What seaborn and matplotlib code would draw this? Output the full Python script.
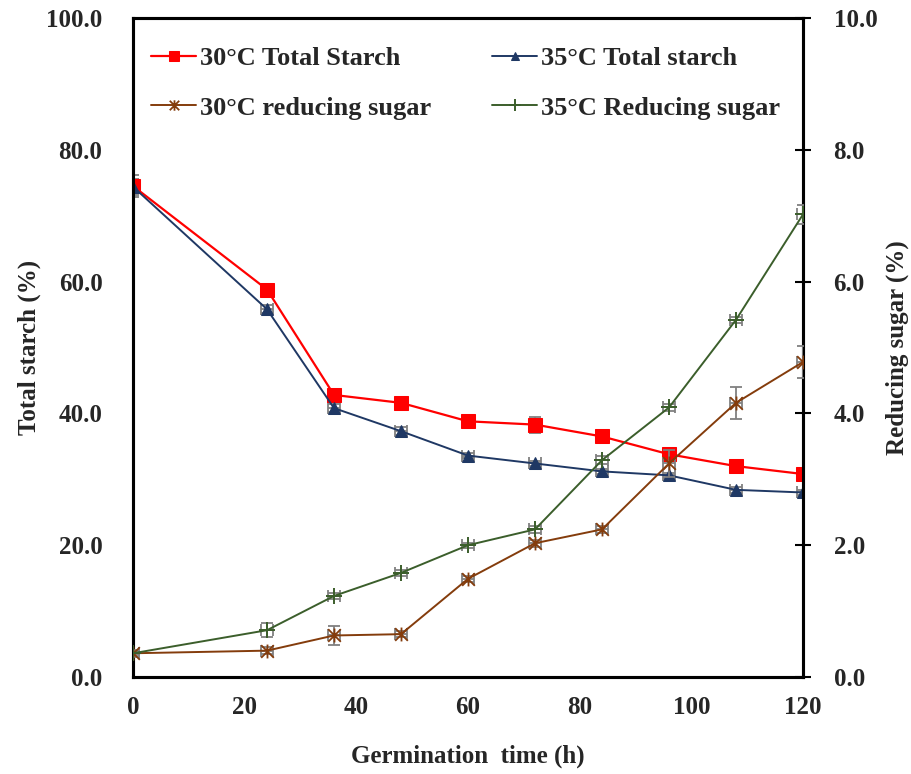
import numpy as np
import pandas as pd
import matplotlib
matplotlib.use("Agg")
import matplotlib.pyplot as plt
from matplotlib.path import Path
import seaborn as sns

# ---- data ----
hours = [0, 24, 36, 48, 60, 72, 84, 96, 108, 120]
starch_30 = [74.5, 58.8, 42.8, 41.6, 38.8, 38.3, 36.5, 33.8, 32.0, 30.8]
starch_35 = [74.4, 55.8, 40.8, 37.3, 33.6, 32.4, 31.2, 30.6, 28.4, 28.0]
sugar_30 = [0.36, 0.40, 0.63, 0.65, 1.49, 2.03, 2.24, 3.24, 4.16, 4.78]
sugar_35 = [0.36, 0.71, 1.23, 1.58, 2.00, 2.24, 3.29, 4.09, 5.42, 7.02]
starch_30_err = [1.7, 0.6, 0.5, 0.6, 0.5, 1.2, 0.5, 0.6, 0.5, 0.4]
starch_35_err = [1.2, 0.6, 0.6, 0.6, 0.4, 0.4, 0.4, 0.4, 0.5, 0.4]
sugar_30_err = [0.05, 0.05, 0.14, 0.05, 0.05, 0.05, 0.05, 0.20, 0.24, 0.25]
sugar_35_err = [0.03, 0.11, 0.05, 0.05, 0.04, 0.05, 0.06, 0.06, 0.05, 0.14]
time_err = [1.0] * len(hours)

labels = ["30\u00b0C Total Starch", "35\u00b0C Total starch",
          "30\u00b0C reducing sugar", "35\u00b0C Reducing sugar"]
x_ticks = [0, 20, 40, 60, 80, 100, 120]
left_ticks = [0, 20, 40, 60, 80, 100]
right_ticks = [0, 2, 4, 6, 8, 10]

sns.set_style("white")
plt.rcParams['font.family'] = ['Liberation Serif', 'DejaVu Serif']
plt.rcParams['font.weight'] = 'bold'

FS = 18
fig = plt.figure(figsize=(9.12, 7.74), dpi=100)
ax = fig.add_axes([133/912, 1-677/774, (803-133)/912, (677-18)/774])
ax2 = ax.twinx()

df_s = pd.DataFrame({"h": hours, "s30": starch_30, "s35": starch_35})
df_r = pd.DataFrame({"h": hours, "r30": sugar_30, "r35": sugar_35})

ecol = "#808080"
c_red, c_blue, c_brown, c_green = "#FF0000", "#1F3864", "#843C0C", "#3B5E2B"

# Excel-like star marker: an x with a vertical stroke
star = Path([(-1, -1), (1, 1), (-1, 1), (1, -1), (0, -1.1), (0, 1.1)],
            [Path.MOVETO, Path.LINETO, Path.MOVETO, Path.LINETO, Path.MOVETO, Path.LINETO])

ekw = dict(fmt='none', ecolor=ecol, elinewidth=1.3, capsize=4, capthick=1.3, zorder=3)
ax.errorbar(hours, starch_30, yerr=starch_30_err, xerr=time_err, **ekw)
ax.errorbar(hours, starch_35, yerr=starch_35_err, xerr=time_err, **ekw)
ax2.errorbar(hours, sugar_30, yerr=sugar_30_err, xerr=time_err, **ekw)
ax2.errorbar(hours, sugar_35, yerr=sugar_35_err, xerr=time_err, **ekw)

sns.lineplot(data=df_s, x="h", y="s30", ax=ax, color=c_red, marker="s",
             markersize=9.5, markeredgecolor=c_red, linewidth=1.6, label=labels[0], zorder=4)
sns.lineplot(data=df_s, x="h", y="s35", ax=ax, color=c_blue, marker="^",
             markersize=8, markeredgecolor=c_blue, linewidth=1.4, label=labels[1], zorder=4)
sns.lineplot(data=df_r, x="h", y="r30", ax=ax2, color=c_brown, marker=star,
             markersize=10, markeredgecolor=c_brown, markeredgewidth=1.3,
             linewidth=1.4, label=labels[2], zorder=4)
sns.lineplot(data=df_r, x="h", y="r35", ax=ax2, color=c_green, marker="+",
             markersize=11, markeredgecolor=c_green, markeredgewidth=1.4,
             linewidth=1.4, label=labels[3], zorder=4)

ax.set_xlim(0, 120)
ax.set_ylim(0, 100)
ax2.set_ylim(0, 10)
ax.set_xticks(x_ticks)
ax.set_yticks(left_ticks)
ax2.set_yticks(right_ticks)
ax.set_xticklabels([str(v) for v in x_ticks], fontsize=FS, fontweight='bold')
ax.set_yticklabels([f"{v:.1f}" for v in left_ticks], fontsize=FS, fontweight='bold')
ax2.set_yticklabels([f"{v:.1f}" for v in right_ticks], fontsize=FS, fontweight='bold')

ax.tick_params(axis='x', length=0, pad=14)
ax.tick_params(axis='y', length=0, pad=22)
ax2.tick_params(axis='y', direction='inout', length=12, width=1.5, pad=16, color='black')

ax.set_xlabel("Germination  time (h)", fontsize=FS, fontweight='bold', labelpad=18)
ax.set_ylabel("Total starch (%)", fontsize=FS, fontweight='bold', labelpad=4)
ax2.set_ylabel("Reducing sugar (%)", fontsize=FS, fontweight='bold', labelpad=6)

for a in (ax, ax2):
    for sp in a.spines.values():
        sp.set_visible(True)
        sp.set_color('black')
        sp.set_linewidth(2.2)
ax.grid(False)
ax2.grid(False)

# combined legend
h1, l1 = ax.get_legend_handles_labels()
h2, l2 = ax2.get_legend_handles_labels()
ax.get_legend().remove()
ax2.get_legend().remove()
handles = [h1[0], h2[0], h1[1], h2[1]]
labs = [l1[0], l2[0], l1[1], l2[1]]
ax2.legend(handles, labs, ncol=2, loc='upper left', bbox_to_anchor=(0.0, 0.985),
           frameon=False, prop={'size': 19, 'weight': 'bold'},
           handlelength=1.7, handletextpad=0.15, columnspacing=2.3,
           labelspacing=1.0, borderaxespad=0.3, markerscale=0.75)

fig.savefig("out.png", dpi=100)
